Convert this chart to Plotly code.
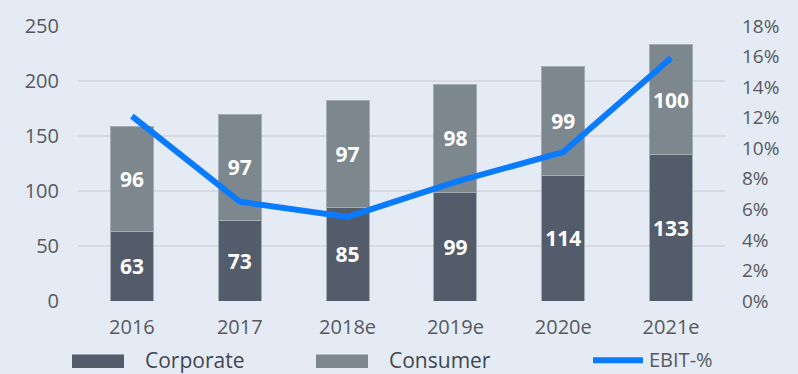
import plotly.graph_objects as go

years = ["2016", "2017", "2018e", "2019e", "2020e", "2021e"]
corporate = [63, 73, 85, 99, 114, 133]
consumer = [96, 97, 97, 98, 99, 100]
ebit_pct = [12.1, 6.5, 5.5, 7.8, 9.75, 15.9]

W, H = 798, 374
ML, MR, MT, MB = 78, 73, 18, 73
PW, PH = W - ML - MR, H - MT - MB

BG = "#e5ebf5"
C_CORP = "#535c6a"
C_CONS = "#7d878e"
C_LINE = "#0a7bff"
TXT = "#555a60"
FONT = "Open Sans"


def px_x(x):
    return (x - ML) / PW


def px_y(y):
    return (H - MB - y) / PH


fig = go.Figure()
bar_common = dict(
    width=0.4,
    marker_line=dict(color="#a3abb3", width=1),
    textposition="inside",
    insidetextanchor="middle",
    textangle=0,
    textfont=dict(family=FONT, size=21, color="white", weight="bold"),
    texttemplate="%{y}",
    showlegend=False,
    hoverinfo="skip",
)
fig.add_trace(go.Bar(x=years, y=corporate, name="Corporate",
                     marker_color=C_CORP, **bar_common))
fig.add_trace(go.Bar(x=years, y=consumer, name="Consumer",
                     marker_color=C_CONS, **bar_common))
fig.add_trace(go.Scatter(x=years, y=ebit_pct, name="EBIT-%", yaxis="y2",
                         mode="lines", showlegend=False,
                         line=dict(color=C_LINE, width=6, shape="linear"),
                         hoverinfo="skip"))

fig.update_layout(
    width=W, height=H,
    margin=dict(l=ML, r=MR, t=MT, b=MB, pad=0),
    paper_bgcolor=BG, plot_bgcolor=BG,
    barmode="stack", uniformtext_mode=False,
    font=dict(family=FONT, size=18, color=TXT),
    xaxis=dict(showgrid=False, zeroline=False, showline=False, ticks="",
               ticklabelstandoff=12,
               tickfont=dict(size=20, color=TXT)),
    yaxis=dict(range=[0, 250], dtick=50, showgrid=True,
               gridcolor="#d6d9dd", gridwidth=2, zeroline=False,
               showline=False, ticks="", ticklabelstandoff=18,
               tickfont=dict(size=20, color=TXT)),
    yaxis2=dict(range=[0, 18], dtick=2, overlaying="y", side="right",
                showgrid=False, zeroline=False, showline=False, ticks="",
                ticksuffix="%", ticklabelstandoff=16,
                tickfont=dict(size=19, color=TXT)),
)

# legend row drawn beneath the axis
shapes = []
annotations = []
for x0, x1, color, label, tx in [
    (72, 124, C_CORP, "Corporate", 143),
    (316, 368, C_CONS, "Consumer", 387),
]:
    shapes.append(dict(type="rect", xref="paper", yref="paper",
                       x0=px_x(x0), x1=px_x(x1), y0=px_y(370), y1=px_y(356),
                       fillcolor=color, line_width=0))
    annotations.append(dict(xref="paper", yref="paper", x=px_x(tx), y=px_y(362),
                            text=label, showarrow=False, xanchor="left",
                            yanchor="middle",
                            font=dict(family=FONT, size=21, color="#3f4650")))
shapes.append(dict(type="line", xref="paper", yref="paper",
                   x0=px_x(593), x1=px_x(643), y0=px_y(362), y1=px_y(362),
                   line=dict(color=C_LINE, width=6)))
annotations.append(dict(xref="paper", yref="paper", x=px_x(647), y=px_y(361),
                        text="EBIT-%", showarrow=False, xanchor="left",
                        yanchor="middle",
                        font=dict(family=FONT, size=20, color=TXT)))
fig.update_layout(shapes=shapes, annotations=annotations)

fig.write_html("out.html")
